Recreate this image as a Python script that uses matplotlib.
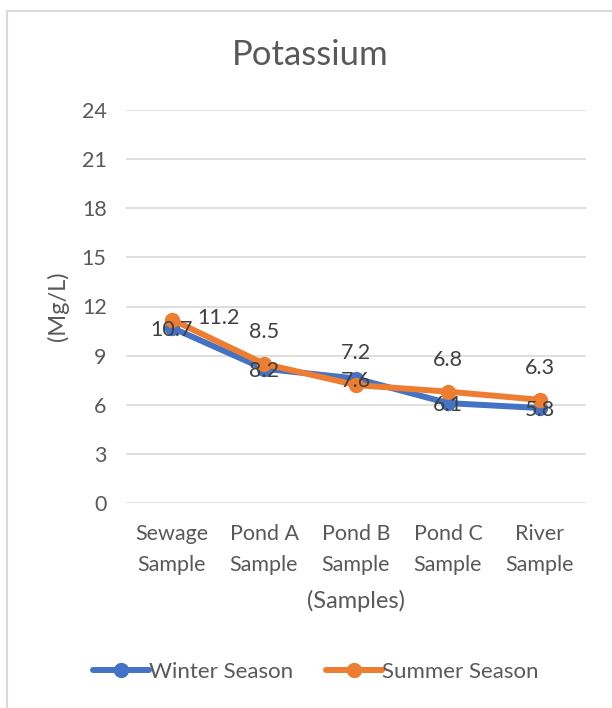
import matplotlib.pyplot as plt
from matplotlib.patches import Rectangle

plt.rcParams['font.family'] = ['Lato', 'DejaVu Sans']

categories = ['Sewage\nSample', 'Pond A\nSample', 'Pond B\nSample', 'Pond C\nSample', 'River\nSample']
winter = [10.7, 8.2, 7.6, 6.1, 5.8]
summer = [11.2, 8.5, 7.2, 6.8, 6.3]
yticks = [0, 3, 6, 9, 12, 15, 18, 21, 24]

text_color = '#595959'
blue = '#4472C4'
orange = '#ED7D31'

fig = plt.figure(figsize=(6.12, 7.08), dpi=100)
ax = fig.add_axes([126 / 612, 1 - 503 / 708, 460 / 612, 393 / 708])

# chart frame (only left and top edges visible)
fig.add_artist(Rectangle((7 / 612, -0.1), 1.2, 1 - 11 / 708 + 0.1, transform=fig.transFigure,
                         fill=False, edgecolor='#D9D9D9', linewidth=1.5))

x = list(range(len(categories)))
ax.plot(x, winter, color=blue, linewidth=4.3, marker='o', markersize=10,
        solid_capstyle='round', label='Winter Season', zorder=3)
ax.plot(x, summer, color=orange, linewidth=4.3, marker='o', markersize=10,
        solid_capstyle='round', label='Summer Season', zorder=4)

# data labels
for xi, v in zip(x, winter):
    ax.annotate(f'{v}', (xi, v), xytext=(0, -2), textcoords='offset pixels',
                ha='center', va='center', fontsize=15.5, color='#404040', zorder=5)
for i, (xi, v) in enumerate(zip(x, summer)):
    if i == 0:
        ax.annotate(f'{v}', (xi, v), xytext=(46, 2), textcoords='offset pixels',
                    ha='center', va='center', fontsize=15.5, color='#404040', zorder=5)
    else:
        ax.annotate(f'{v}', (xi, v), xytext=(0, 32), textcoords='offset pixels',
                    ha='center', va='center', fontsize=15.5, color='#404040', zorder=5)

ax.set_xlim(-0.5, len(categories) - 0.5)
ax.set_ylim(0, 24)
ax.set_yticks(yticks)
ax.set_xticks(x)
ax.set_xticklabels(categories, fontsize=15.5, color=text_color, linespacing=1.68)
ax.tick_params(axis='y', labelsize=15.5, labelcolor=text_color, length=0, pad=14)
ax.tick_params(axis='x', length=0, pad=15)
ax.grid(axis='y', color='#D9D9D9', linewidth=1.2)
ax.set_axisbelow(True)
for s in ax.spines.values():
    s.set_visible(False)

fig.text(310 / 612, 1 - 55 / 708, 'Potassium', fontsize=25, color=text_color,
         ha='center', va='center')
ax.set_ylabel('(Mg/L)', fontsize=17, color=text_color, labelpad=9)
ax.set_xlabel('(Samples)', fontsize=17, color=text_color, labelpad=11)

leg = fig.legend(loc='center', bbox_to_anchor=(0.5 + 10 / 612, 1 - 672 / 708), ncol=2,
                 frameon=False, fontsize=16, labelcolor=text_color, handlelength=2.5,
                 handletextpad=0.0, columnspacing=1.5)

fig.savefig('out.png', dpi=100)
